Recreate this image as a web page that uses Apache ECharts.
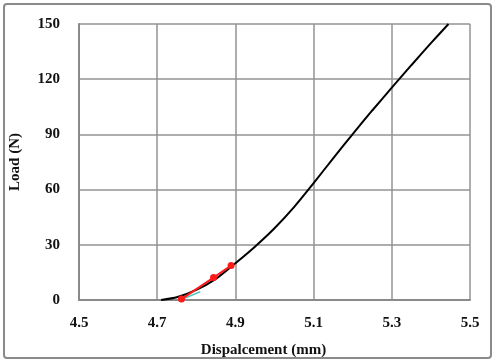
<!DOCTYPE html>
<html>
<head>
<meta charset="utf-8">
<script src="https://cdn.jsdelivr.net/npm/echarts@6/dist/echarts.min.js"></script>
<style>
html,body{margin:0;padding:0;background:#fff;}
#c{width:500px;height:363px;}
</style>
</head>
<body>
<div id="c"></div>
<script>
// Load-displacement curve (black)
var curveDisp = [4.71, 4.75, 4.80, 4.85, 4.90, 4.95, 5.00, 5.05, 5.10, 5.15, 5.20, 5.25, 5.30, 5.35, 5.40, 5.445];
var curveLoad = [0, 1.5, 5.5, 11.5, 20, 29, 39, 50.5, 63.5, 77, 90.2, 103, 115.4, 127.6, 139.6, 150];
// Red fitted points
var redDisp = [4.762, 4.844, 4.889];
var redLoad = [0.5, 12.2, 18.7];
// Teal tangent segment
var tealDisp = [4.768, 4.81];
var tealLoad = [0.8, 4.5];
// Axis ticks
var xTicks = [4.5, 4.7, 4.9, 5.1, 5.3, 5.5];
var yTicks = [0, 30, 60, 90, 120, 150];

function pairs(a, b){ return a.map(function(v,i){ return [v, b[i]]; }); }

var chart = echarts.init(document.getElementById('c'), null, {renderer:'canvas'});
var font = 'Liberation Serif';
chart.setOption({
  animation:false,
  graphic:[{
    type:'rect', shape:{x:4, y:4, width:487, height:354, r:3},
    style:{fill:'none', stroke:'#8a8a8a', lineWidth:2}, z:-1
  }],
  grid:{left:76, top:24, width:394, height:278, show:false},
  xAxis:{
    type:'value', min:xTicks[0], max:xTicks[xTicks.length-1], interval:0.2,
    name:'Dispalcement (mm)', nameLocation:'middle', nameGap:43,
    nameTextStyle:{fontFamily:font, fontWeight:'bold', fontSize:15, color:'#111', padding:[0,22,0,0]},
    axisLine:{show:true, lineStyle:{color:'#8a8a8a', width:2}},
    axisTick:{show:false},
    axisLabel:{fontFamily:font, fontWeight:'bold', fontSize:15, color:'#111', margin:16,
      formatter:function(v){ return v.toFixed(1); }},
    splitLine:{show:true, lineStyle:{color:'#939393', width:1.5}}
  },
  yAxis:{
    type:'value', min:yTicks[0], max:yTicks[yTicks.length-1], interval:30,
    name:'Load (N)', nameLocation:'middle', nameGap:56, nameRotate:90,
    nameTextStyle:{fontFamily:font, fontWeight:'bold', fontSize:15, color:'#111'},
    axisLine:{show:true, lineStyle:{color:'#8a8a8a', width:2}},
    axisTick:{show:false},
    axisLabel:{fontFamily:font, fontWeight:'bold', fontSize:15, color:'#111', margin:19},
    splitLine:{show:true, lineStyle:{color:'#939393', width:1.5}}
  },
  series:[
    {type:'line', data:pairs(curveDisp, curveLoad), smooth:0.2, showSymbol:false,
     lineStyle:{color:'#000', width:2}, z:2},
    {type:'line', data:pairs(tealDisp, tealLoad), showSymbol:false,
     lineStyle:{color:'#4fc9c0', width:1.5}, z:3},
    {type:'line', data:pairs(redDisp, redLoad), symbol:'circle', symbolSize:7,
     itemStyle:{color:'#ff1a1a'}, lineStyle:{color:'#ff1a1a', width:2}, z:4}
  ]
});
</script>
</body>
</html>
